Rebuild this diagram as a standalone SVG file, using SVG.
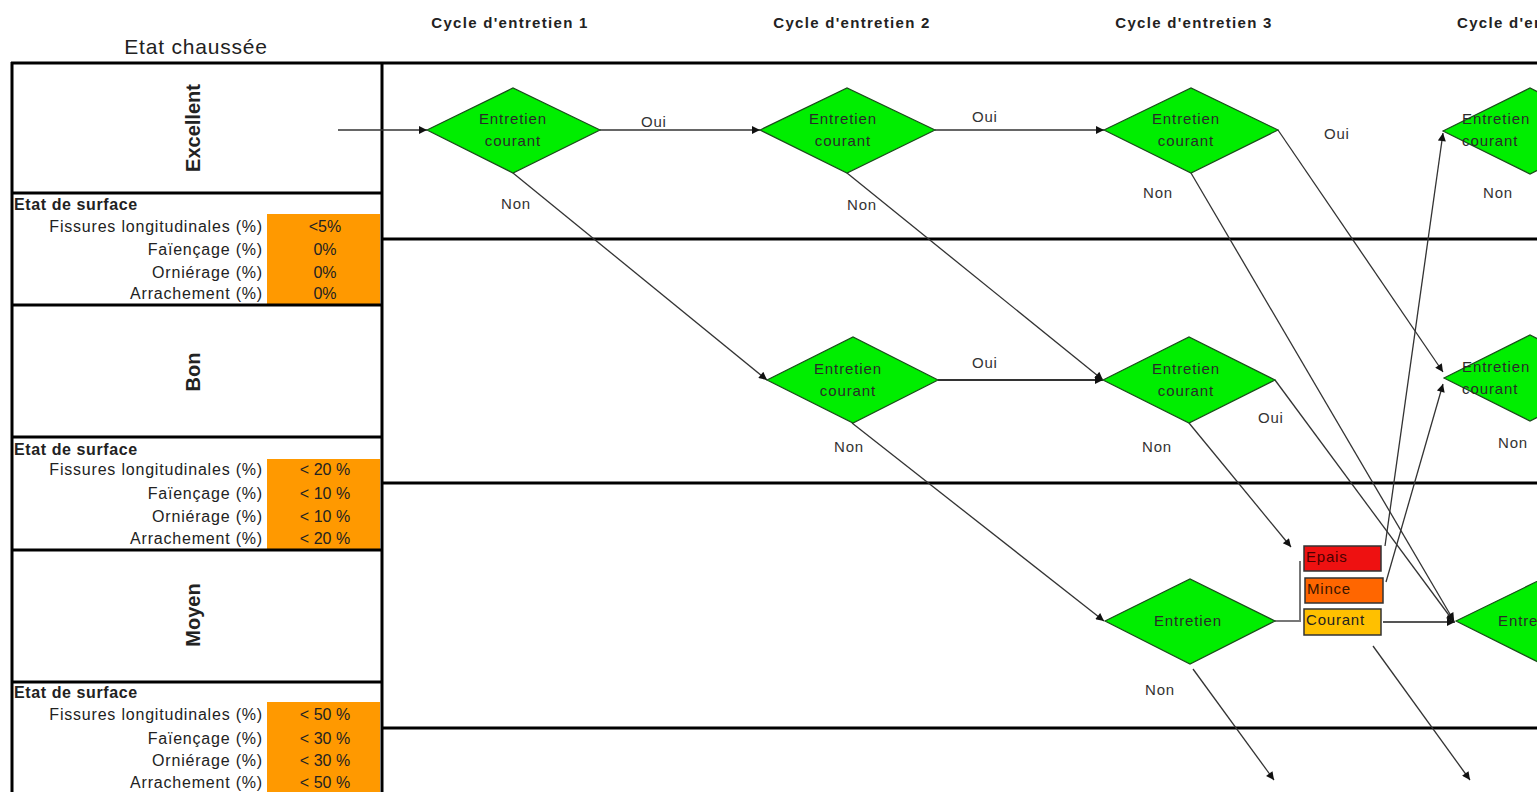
<svg xmlns="http://www.w3.org/2000/svg" width="1537" height="792" viewBox="0 0 1537 792">
<style>
text{font-family:"Liberation Sans",Arial,sans-serif;fill:#222}
.hdr{font-size:15px;font-weight:bold;letter-spacing:1.3px;text-anchor:middle}
.thick{stroke:#000;stroke-width:3;fill:none}
.row{font-size:20px;font-weight:bold;text-anchor:middle}
.sh{font-size:16px;font-weight:bold;letter-spacing:0.6px}
.lbl{font-size:16px;letter-spacing:0.8px;text-anchor:end}
.val{font-size:16px;text-anchor:middle}
.org{fill:#ff9900}
.dia{fill:#00ee00;stroke:#1a4d1a;stroke-width:1.2}
.dt{font-size:15px;letter-spacing:0.9px;text-anchor:middle;fill:#2a2a2a}
.dts{font-size:15px;letter-spacing:0.9px;fill:#2a2a2a}
.cl{font-size:15px;letter-spacing:0.8px;fill:#333}
.con{stroke:#333;stroke-width:1.3;fill:none;marker-end:url(#ah)}
.box{stroke:#333;stroke-width:1.5}
.bt{font-size:15px;letter-spacing:0.8px}
</style>
<defs>
<marker id="ah" viewBox="0 0 10 10" refX="10" refY="5" markerWidth="12" markerHeight="8" markerUnits="userSpaceOnUse" orient="auto">
<path d="M0,0 L10,5 L0,10 z" fill="#111"/>
</marker>
</defs>
<rect x="0" y="0" width="1537" height="792" fill="#fff"/>

<g id="headers">
<text x="196" y="54" style="font-size:21px;letter-spacing:0.8px;text-anchor:middle">Etat chaussée</text>
<text class="hdr" x="510" y="28">Cycle d'entretien 1</text>
<text class="hdr" x="852" y="28">Cycle d'entretien 2</text>
<text class="hdr" x="1194" y="28">Cycle d'entretien 3</text>
<text class="hdr" x="1457" y="28" style="text-anchor:start">Cycle d'entretien 4</text>
</g>

<g id="grid">
<rect class="org" x="267" y="214" width="113" height="91"/>
<rect class="org" x="267" y="459" width="113" height="91"/>
<rect class="org" x="267" y="702" width="113" height="90"/>
<line class="thick" x1="11" y1="63" x2="1537" y2="63"/>
<line class="thick" x1="12" y1="62" x2="12" y2="792"/>
<line class="thick" x1="382" y1="62" x2="382" y2="792"/>
<line class="thick" x1="12" y1="193" x2="382" y2="193"/>
<line class="thick" x1="12" y1="305" x2="382" y2="305"/>
<line class="thick" x1="12" y1="437" x2="382" y2="437"/>
<line class="thick" x1="12" y1="550" x2="382" y2="550"/>
<line class="thick" x1="12" y1="682" x2="382" y2="682"/>
<line class="thick" x1="382" y1="239" x2="1537" y2="239"/>
<line class="thick" x1="382" y1="483" x2="1537" y2="483"/>
<line class="thick" x1="382" y1="728" x2="1537" y2="728"/>
</g>

<g id="excellent">
<text class="row" transform="translate(200,128) rotate(-90)">Excellent</text>
<text class="sh" x="14" y="210">Etat de surface</text>
<text class="lbl" x="263" y="232">Fissures longitudinales (%)</text>
<text class="lbl" x="263" y="255">Faïençage (%)</text>
<text class="lbl" x="263" y="278">Orniérage (%)</text>
<text class="lbl" x="263" y="299">Arrachement (%)</text>
<text class="val" x="325" y="232">&lt;5%</text>
<text class="val" x="325" y="255">0%</text>
<text class="val" x="325" y="278">0%</text>
<text class="val" x="325" y="299">0%</text>
</g>

<g id="bon">
<text class="row" transform="translate(200,372) rotate(-90)">Bon</text>
<text class="sh" x="14" y="455">Etat de surface</text>
<text class="lbl" x="263" y="475">Fissures longitudinales (%)</text>
<text class="lbl" x="263" y="499">Faïençage (%)</text>
<text class="lbl" x="263" y="522">Orniérage (%)</text>
<text class="lbl" x="263" y="544">Arrachement (%)</text>
<text class="val" x="325" y="475">&lt; 20 %</text>
<text class="val" x="325" y="499">&lt; 10 %</text>
<text class="val" x="325" y="522">&lt; 10 %</text>
<text class="val" x="325" y="544">&lt; 20 %</text>
</g>

<g id="moyen">
<text class="row" transform="translate(200,615) rotate(-90)">Moyen</text>
<text class="sh" x="14" y="698">Etat de surface</text>
<text class="lbl" x="263" y="720">Fissures longitudinales (%)</text>
<text class="lbl" x="263" y="744">Faïençage (%)</text>
<text class="lbl" x="263" y="766">Orniérage (%)</text>
<text class="lbl" x="263" y="788">Arrachement (%)</text>
<text class="val" x="325" y="720">&lt; 50 %</text>
<text class="val" x="325" y="744">&lt; 30 %</text>
<text class="val" x="325" y="766">&lt; 30 %</text>
<text class="val" x="325" y="788">&lt; 50 %</text>
</g>

<g id="connectors">
<line class="con" x1="338" y1="130" x2="427" y2="130"/>
<line class="con" x1="600" y1="130" x2="760" y2="130"/>
<line class="con" x1="935" y1="130" x2="1104" y2="130"/>
<line class="con" x1="1278" y1="130" x2="1443" y2="372"/>
<line class="con" x1="513" y1="173" x2="767" y2="380"/>
<line class="con" x1="847" y1="173" x2="1103" y2="380"/>
<line class="con" x1="1191" y1="173" x2="1454" y2="621"/>
<line class="con" x1="938" y1="380" x2="1103" y2="380" style="stroke-width:2"/>
<line class="con" x1="1275" y1="380" x2="1454" y2="622"/>
<line class="con" x1="852" y1="423" x2="1104" y2="621"/>
<line class="con" x1="1189" y1="423" x2="1291" y2="547"/>
<line class="con" x1="1193" y1="669" x2="1274" y2="780"/>
<line class="con" x1="1373" y1="646" x2="1470" y2="780"/>
<path d="M1275,621 H1300 V561" stroke="#777" stroke-width="2" fill="none"/>
<line class="con" x1="1383" y1="622" x2="1455" y2="622" style="stroke:#555;stroke-width:2"/>
<line class="con" x1="1385" y1="546" x2="1443" y2="133"/>
<line class="con" x1="1386" y1="582" x2="1443" y2="384"/>
<text class="cl" x="641" y="127">Oui</text>
<text class="cl" x="972" y="122">Oui</text>
<text class="cl" x="1324" y="139">Oui</text>
<text class="cl" x="972" y="368">Oui</text>
<text class="cl" x="1258" y="423">Oui</text>
<text class="cl" x="501" y="209">Non</text>
<text class="cl" x="847" y="210">Non</text>
<text class="cl" x="1143" y="198">Non</text>
<text class="cl" x="1483" y="198">Non</text>
<text class="cl" x="834" y="452">Non</text>
<text class="cl" x="1142" y="452">Non</text>
<text class="cl" x="1498" y="448">Non</text>
<text class="cl" x="1145" y="695">Non</text>
</g>

<g id="d1"><polygon class="dia" points="427,130 513,88 600,130 513,173"/><text class="dt" x="513" y="124">Entretien</text><text class="dt" x="513" y="146">courant</text></g>
<g id="d2"><polygon class="dia" points="760,130 847,88 935,130 847,173"/><text class="dt" x="843" y="124">Entretien</text><text class="dt" x="843" y="146">courant</text></g>
<g id="d3"><polygon class="dia" points="1104,130 1191,88 1278,130 1191,173"/><text class="dt" x="1186" y="124">Entretien</text><text class="dt" x="1186" y="146">courant</text></g>
<g id="d4"><polygon class="dia" points="1443,131 1530,88 1617,131 1530,174"/><text class="dts" x="1462" y="124">Entretien</text><text class="dts" x="1462" y="146">courant</text></g>
<g id="d5"><polygon class="dia" points="767,380 853,337 938,380 853,423"/><text class="dt" x="848" y="374">Entretien</text><text class="dt" x="848" y="396">courant</text></g>
<g id="d6"><polygon class="dia" points="1103,380 1189,337 1275,380 1189,423"/><text class="dt" x="1186" y="374">Entretien</text><text class="dt" x="1186" y="396">courant</text></g>
<g id="d7"><polygon class="dia" points="1444,378 1530,335 1616,378 1530,421"/><text class="dts" x="1462" y="372">Entretien</text><text class="dts" x="1462" y="394">courant</text></g>
<g id="d8"><polygon class="dia" points="1105,621 1190,579 1275,621 1190,664"/><text class="dt" x="1188" y="626">Entretien</text></g>
<g id="d9"><polygon class="dia" points="1456,621 1542,579 1628,621 1542,664"/><text class="dts" x="1498" y="626">Entretien</text></g>

<g id="epais"><rect class="box" x="1304" y="546" width="77" height="25" fill="#ee1111"/><text class="bt" x="1306" y="562" style="fill:#4a0000">Epais</text></g>
<g id="mince"><rect class="box" x="1305" y="578" width="78" height="25" fill="#ff6600"/><text class="bt" x="1307" y="594" style="fill:#3a1500">Mince</text></g>
<g id="courant"><rect class="box" x="1304" y="609" width="77" height="26" fill="#ffc000"/><text class="bt" x="1306" y="625">Courant</text></g>
</svg>
